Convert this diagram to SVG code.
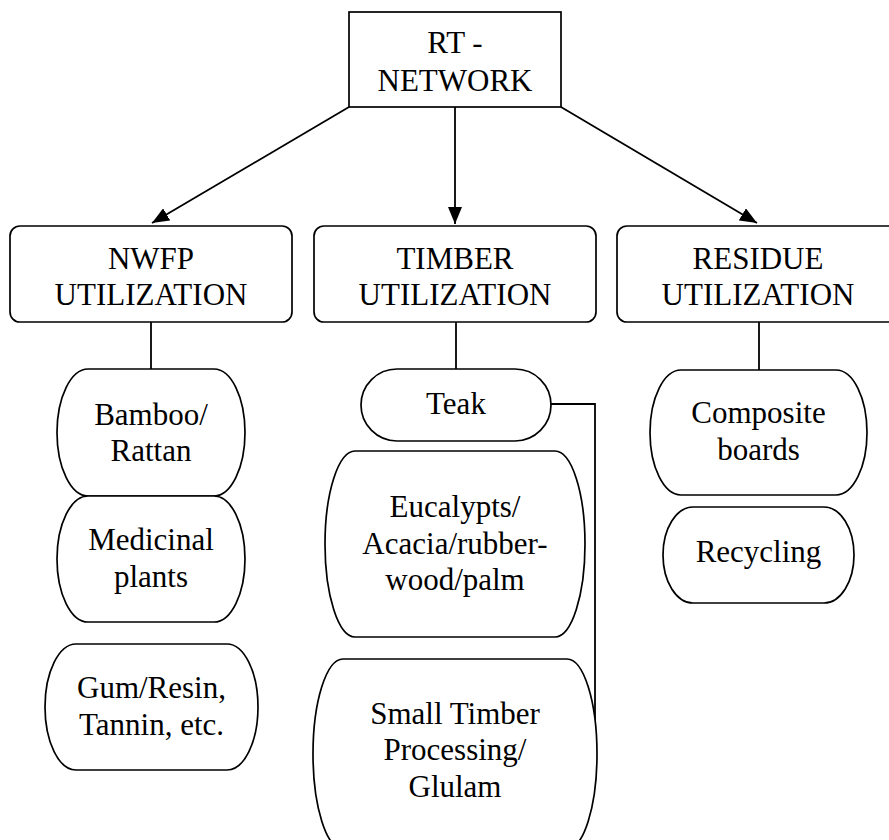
<svg xmlns="http://www.w3.org/2000/svg" width="889" height="840" viewBox="0 0 889 840">
  <style>
    .box { fill: #ffffff; stroke: #000000; stroke-width: 1.7; }
    .wire { fill: none; stroke: #000000; stroke-width: 1.8; }
    text { font-family: 'Liberation Serif', 'Times New Roman', serif; font-size: 31px; fill: #000000; text-anchor: middle; }
  </style>
  <defs>
    <marker id="arrow" markerUnits="userSpaceOnUse" markerWidth="18" markerHeight="14" refX="17" refY="7" orient="auto">
      <path d="M0,0 L17,7 L0,14 z" fill="#000000"/>
    </marker>
  </defs>

  <!-- connectors -->
  <g id="connectors">
    <line class="wire" x1="349" y1="107" x2="152" y2="223" marker-end="url(#arrow)"/>
    <line class="wire" x1="455" y1="107" x2="455" y2="224" marker-end="url(#arrow)"/>
    <line class="wire" x1="561" y1="107" x2="757" y2="223" marker-end="url(#arrow)"/>
    <line class="wire" x1="151" y1="322" x2="151" y2="369"/>
    <line class="wire" x1="456" y1="322" x2="456" y2="369"/>
    <line class="wire" x1="759" y1="322" x2="759" y2="370"/>
    <polyline class="wire" points="551,404 595,404 595,722"/>
  </g>

  <!-- root -->
  <g id="rt-network">
    <rect class="box" x="349" y="12" width="212" height="95"/>
    <text x="455" y="53">RT -</text>
    <text x="455" y="91">NETWORK</text>
  </g>

  <!-- category headers -->
  <g id="nwfp">
    <rect class="box" x="10" y="226" width="282" height="96" rx="10" ry="10"/>
    <text x="151" y="269">NWFP</text>
    <text x="151" y="305">UTILIZATION</text>
  </g>
  <g id="timber">
    <rect class="box" x="314" y="226" width="282" height="96" rx="10" ry="10"/>
    <text x="455" y="269">TIMBER</text>
    <text x="455" y="305">UTILIZATION</text>
  </g>
  <g id="residue">
    <rect class="box" x="617" y="226" width="282" height="96" rx="10" ry="10"/>
    <text x="758" y="269">RESIDUE</text>
    <text x="758" y="305">UTILIZATION</text>
  </g>

  <!-- NWFP items -->
  <g id="bamboo">
    <rect class="box" x="57" y="369" width="188" height="127" rx="31" ry="63.5"/>
    <text x="151" y="425">Bamboo/</text>
    <text x="151" y="461">Rattan</text>
  </g>
  <g id="medicinal">
    <rect class="box" x="57" y="496" width="188" height="126" rx="31" ry="63"/>
    <text x="151" y="550">Medicinal</text>
    <text x="151" y="587">plants</text>
  </g>
  <g id="gum">
    <rect class="box" x="45" y="644" width="213" height="126" rx="31" ry="63"/>
    <text x="151.5" y="698">Gum/Resin,</text>
    <text x="151.5" y="735">Tannin, etc.</text>
  </g>

  <!-- timber items -->
  <g id="teak">
    <rect class="box" x="361" y="369" width="190" height="72" rx="36" ry="36"/>
    <text x="456" y="414">Teak</text>
  </g>
  <g id="eucalypts">
    <rect class="box" x="325" y="451" width="260" height="186" rx="30" ry="93"/>
    <text x="455" y="517">Eucalypts/</text>
    <text x="455" y="554">Acacia/rubber-</text>
    <text x="455" y="590">wood/palm</text>
  </g>
  <g id="small-timber">
    <rect class="box" x="313" y="659" width="284" height="190" rx="30" ry="95"/>
    <text x="455" y="724">Small Timber</text>
    <text x="455" y="760">Processing/</text>
    <text x="455" y="797">Glulam</text>
  </g>

  <!-- residue items -->
  <g id="composite">
    <rect class="box" x="650" y="370" width="217" height="125" rx="31" ry="62.5"/>
    <text x="758.5" y="423">Composite</text>
    <text x="758.5" y="460">boards</text>
  </g>
  <g id="recycling">
    <rect class="box" x="663" y="507" width="191" height="96" rx="30" ry="48"/>
    <text x="758.5" y="562">Recycling</text>
  </g>
</svg>
